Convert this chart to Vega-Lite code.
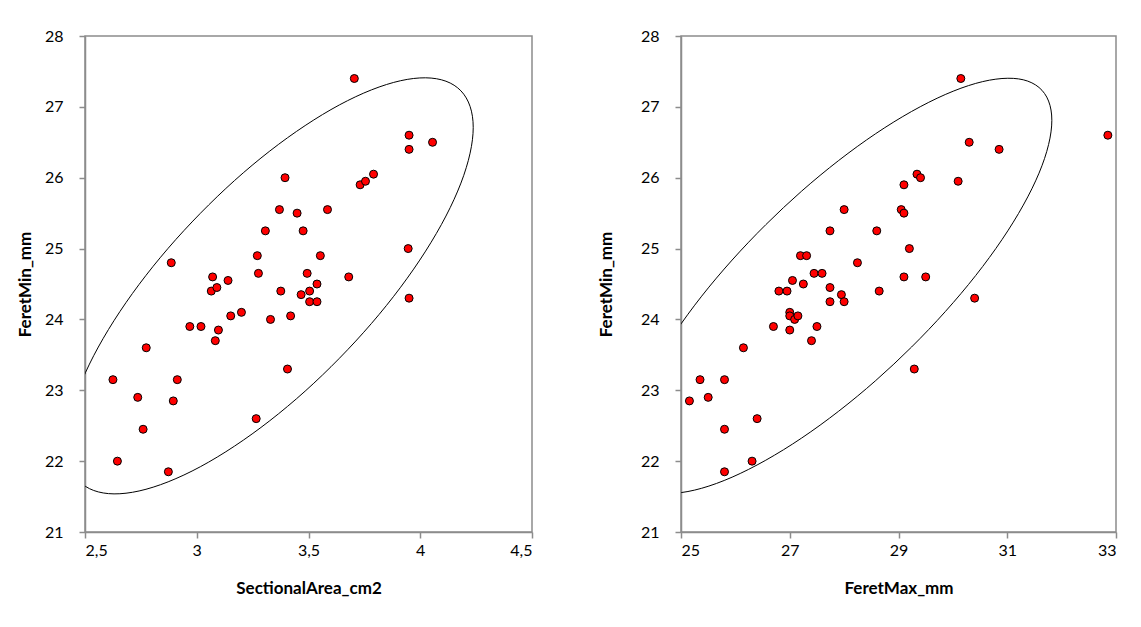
{
  "$schema": "https://vega.github.io/schema/vega-lite/v6.json",
  "autosize": {"type": "pad"},
  "padding": {"left": 15, "top": 27, "right": 0, "bottom": 0},
  "background": "white",
  "bounds": "flush",
  "spacing": 149,
  "config": {
    "font": "Lato",
    "view": {"stroke": "#8c8c8c", "strokeWidth": 1.5},
    "axis": {"domainColor": "#8c8c8c", "domainWidth": 1.5, "tickColor": "#8c8c8c", "tickWidth": 1.5, "tickSize": 6, "grid": false, "labelFont": "Lato", "labelFontSize": 16, "labelColor": "#000000", "titleFont": "Lato", "titleFontSize": 17, "titleFontWeight": "bold", "titleColor": "#000000"}
  },
  "datasets": {
    "area": [
      {"a":2.625,"fmin":23.15},{"a":2.645,"fmin":22.0},{"a":2.736,"fmin":22.9},{"a":2.76,"fmin":22.45},{"a":2.774,"fmin":23.6},{"a":2.873,"fmin":21.85},{"a":2.886,"fmin":24.8},{"a":2.895,"fmin":22.85},{"a":2.913,"fmin":23.15},{"a":2.969,"fmin":23.9},{"a":3.019,"fmin":23.9},{"a":3.065,"fmin":24.4},{"a":3.071,"fmin":24.6},{"a":3.083,"fmin":23.7},{"a":3.09,"fmin":24.45},{"a":3.097,"fmin":23.85},{"a":3.14,"fmin":24.55},{"a":3.152,"fmin":24.05},{"a":3.2,"fmin":24.1},{"a":3.266,"fmin":22.6},{"a":3.271,"fmin":24.9},{"a":3.276,"fmin":24.65},{"a":3.307,"fmin":25.25},{"a":3.33,"fmin":24.0},{"a":3.37,"fmin":25.55},{"a":3.376,"fmin":24.4},{"a":3.395,"fmin":26.0},{"a":3.406,"fmin":23.3},{"a":3.42,"fmin":24.05},{"a":3.449,"fmin":25.5},{"a":3.467,"fmin":24.35},{"a":3.476,"fmin":25.25},{"a":3.494,"fmin":24.65},{"a":3.505,"fmin":24.4},{"a":3.505,"fmin":24.25},{"a":3.538,"fmin":24.25},{"a":3.538,"fmin":24.5},{"a":3.553,"fmin":24.9},{"a":3.585,"fmin":25.55},{"a":3.68,"fmin":24.6},{"a":3.705,"fmin":27.4},{"a":3.731,"fmin":25.9},{"a":3.755,"fmin":25.95},{"a":3.791,"fmin":26.05},{"a":3.946,"fmin":25.0},{"a":3.95,"fmin":26.6},{"a":3.95,"fmin":26.4},{"a":3.95,"fmin":24.3},{"a":4.055,"fmin":26.5}
    ],
    "fmax": [
      {"m":25.155,"fmin":22.85},{"m":25.35,"fmin":23.15},{"m":25.5,"fmin":22.9},{"m":25.8,"fmin":23.15},{"m":25.8,"fmin":22.45},{"m":25.8,"fmin":21.85},{"m":26.148,"fmin":23.6},{"m":26.307,"fmin":22.0},{"m":26.4,"fmin":22.6},{"m":26.7,"fmin":23.9},{"m":26.8,"fmin":24.4},{"m":26.95,"fmin":24.4},{"m":27.0,"fmin":24.1},{"m":27.0,"fmin":24.05},{"m":27.09,"fmin":24.0},{"m":27.15,"fmin":24.05},{"m":27.0,"fmin":23.85},{"m":27.05,"fmin":24.55},{"m":27.197,"fmin":24.9},{"m":27.25,"fmin":24.5},{"m":27.31,"fmin":24.9},{"m":27.4,"fmin":23.7},{"m":27.447,"fmin":24.65},{"m":27.5,"fmin":23.9},{"m":27.594,"fmin":24.65},{"m":27.74,"fmin":25.25},{"m":27.74,"fmin":24.45},{"m":27.74,"fmin":24.25},{"m":27.95,"fmin":24.35},{"m":28.0,"fmin":25.55},{"m":28.0,"fmin":24.25},{"m":28.245,"fmin":24.8},{"m":28.6,"fmin":25.25},{"m":28.645,"fmin":24.4},{"m":29.05,"fmin":25.55},{"m":29.1,"fmin":25.5},{"m":29.1,"fmin":25.9},{"m":29.1,"fmin":24.6},{"m":29.2,"fmin":25.0},{"m":29.29,"fmin":23.3},{"m":29.34,"fmin":26.05},{"m":29.405,"fmin":26.0},{"m":29.5,"fmin":24.6},{"m":30.097,"fmin":25.95},{"m":30.146,"fmin":27.4},{"m":30.3,"fmin":26.5},{"m":30.4,"fmin":24.3},{"m":30.85,"fmin":26.4},{"m":32.85,"fmin":26.6}
    ],
    "ell1": [
      {"i":0,"x":4.237,"y":26.710},{"i":1,"x":4.223,"y":27.006},{"i":2,"x":4.182,"y":27.226},{"i":3,"x":4.115,"y":27.362},{"i":4,"x":4.024,"y":27.410},{"i":5,"x":3.912,"y":27.369},{"i":6,"x":3.782,"y":27.240},{"i":7,"x":3.638,"y":27.027},{"i":8,"x":3.485,"y":26.736},{"i":9,"x":3.327,"y":26.377},{"i":10,"x":3.169,"y":25.960},{"i":11,"x":3.016,"y":25.497},{"i":12,"x":2.872,"y":25.004},{"i":13,"x":2.742,"y":24.494},{"i":14,"x":2.630,"y":23.984},{"i":15,"x":2.539,"y":23.489},{"i":16,"x":2.472,"y":23.024},{"i":17,"x":2.431,"y":22.602},{"i":18,"x":2.417,"y":22.238},{"i":19,"x":2.431,"y":21.942},{"i":20,"x":2.472,"y":21.722},{"i":21,"x":2.539,"y":21.586},{"i":22,"x":2.630,"y":21.538},{"i":23,"x":2.742,"y":21.579},{"i":24,"x":2.872,"y":21.708},{"i":25,"x":3.016,"y":21.921},{"i":26,"x":3.169,"y":22.212},{"i":27,"x":3.327,"y":22.571},{"i":28,"x":3.485,"y":22.988},{"i":29,"x":3.638,"y":23.451},{"i":30,"x":3.782,"y":23.944},{"i":31,"x":3.912,"y":24.454},{"i":32,"x":4.024,"y":24.964},{"i":33,"x":4.115,"y":25.459},{"i":34,"x":4.182,"y":25.924},{"i":35,"x":4.223,"y":26.346}
    ],
    "ell2": [
      {"i":0,"x":31.820,"y":26.810},{"i":1,"x":31.760,"y":27.082},{"i":2,"x":31.584,"y":27.274},{"i":3,"x":31.295,"y":27.382},{"i":4,"x":30.903,"y":27.400},{"i":5,"x":30.420,"y":27.331},{"i":6,"x":29.860,"y":27.174},{"i":7,"x":29.241,"y":26.935},{"i":8,"x":28.581,"y":26.622},{"i":9,"x":27.900,"y":26.243},{"i":10,"x":27.219,"y":25.811},{"i":11,"x":26.559,"y":25.337},{"i":12,"x":25.940,"y":24.838},{"i":13,"x":25.380,"y":24.328},{"i":14,"x":24.897,"y":23.822},{"i":15,"x":24.505,"y":23.336},{"i":16,"x":24.216,"y":22.884},{"i":17,"x":24.040,"y":22.481},{"i":18,"x":23.980,"y":22.138},{"i":19,"x":24.040,"y":21.866},{"i":20,"x":24.216,"y":21.674},{"i":21,"x":24.505,"y":21.567},{"i":22,"x":24.897,"y":21.548},{"i":23,"x":25.380,"y":21.617},{"i":24,"x":25.940,"y":21.774},{"i":25,"x":26.559,"y":22.013},{"i":26,"x":27.219,"y":22.326},{"i":27,"x":27.900,"y":22.705},{"i":28,"x":28.581,"y":23.137},{"i":29,"x":29.241,"y":23.611},{"i":30,"x":29.860,"y":24.110},{"i":31,"x":30.420,"y":24.620},{"i":32,"x":30.903,"y":25.126},{"i":33,"x":31.295,"y":25.613},{"i":34,"x":31.584,"y":26.064},{"i":35,"x":31.760,"y":26.467}
    ]
  },
  "hconcat": [
    {
      "width": 447,
      "height": 496,
      "layer": [
        {
          "data": {"name": "ell1"},
          "mark": {"type": "line", "color": "#000000", "strokeWidth": 1, "clip": true, "interpolate": "cardinal-closed"},
          "encoding": {
            "x": {"field": "x", "type": "quantitative", "scale": {"domain": [2.5, 4.5], "nice": false, "zero": false}, "title": "SectionalArea_cm2", "axis": {"values": [2.5, 3, 3.5, 4, 4.5], "format": ".1~f", "labelExpr": "replace(datum.label, '.', ',')", "labelPadding": 4, "titlePadding": 22}},
            "y": {"field": "y", "type": "quantitative", "scale": {"domain": [21, 28], "nice": false, "zero": false}, "title": "FeretMin_mm", "axis": {"values": [21, 22, 23, 24, 25, 26, 27, 28], "format": "d", "labelPadding": 16, "titlePadding": 10}},
            "order": {"field": "i", "type": "quantitative"}
          }
        },
        {
          "data": {"name": "area"},
          "mark": {"type": "circle", "color": "#ff0000", "stroke": "#000000", "strokeWidth": 1, "size": 64, "opacity": 1},
          "encoding": {
            "x": {"field": "a", "type": "quantitative"},
            "y": {"field": "fmin", "type": "quantitative"}
          }
        }
      ]
    },
    {
      "width": 435,
      "height": 496,
      "layer": [
        {
          "data": {"name": "ell2"},
          "mark": {"type": "line", "color": "#000000", "strokeWidth": 1, "clip": true, "interpolate": "cardinal-closed"},
          "encoding": {
            "x": {"field": "x", "type": "quantitative", "scale": {"domain": [25, 33], "nice": false, "zero": false}, "title": "FeretMax_mm", "axis": {"values": [25, 27, 29, 31, 33], "format": "d", "labelPadding": 4, "titlePadding": 22}},
            "y": {"field": "y", "type": "quantitative", "scale": {"domain": [21, 28], "nice": false, "zero": false}, "title": "FeretMin_mm", "axis": {"values": [21, 22, 23, 24, 25, 26, 27, 28], "format": "d", "labelPadding": 16, "titlePadding": 25}},
            "order": {"field": "i", "type": "quantitative"}
          }
        },
        {
          "data": {"name": "fmax"},
          "mark": {"type": "circle", "color": "#ff0000", "stroke": "#000000", "strokeWidth": 1, "size": 64, "opacity": 1},
          "encoding": {
            "x": {"field": "m", "type": "quantitative"},
            "y": {"field": "fmin", "type": "quantitative"}
          }
        }
      ]
    }
  ]
}
